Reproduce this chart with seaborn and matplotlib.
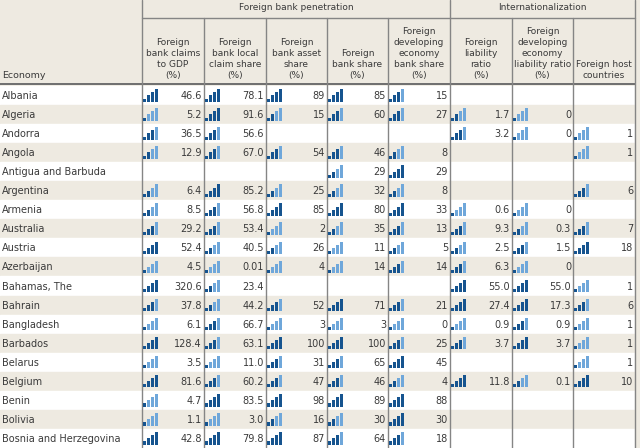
import matplotlib
matplotlib.use("Agg")
import matplotlib.pyplot as plt
from matplotlib.patches import Rectangle
import seaborn as sns

# ------------------------------
# Data (read off the reference table)
# ------------------------------
countries = ["Albania", "Algeria", "Andorra", "Angola", "Antigua and Barbuda",
             "Argentina", "Armenia", "Australia", "Austria", "Azerbaijan",
             "Bahamas, The", "Bahrain", "Bangladesh", "Barbados", "Belarus",
             "Belgium", "Benin", "Bolivia", "Bosnia and Herzegovina"]

claims_gdp = ["46.6", "5.2", "36.5", "12.9", "", "6.4", "8.5", "29.2", "52.4", "4.5",
              "320.6", "37.8", "6.1", "128.4", "3.5", "81.6", "4.7", "1.1", "42.8"]
claims_gdp_q = [4, 1, 3, 2, 0, 2, 2, 3, 4, 1, 4, 3, 1, 4, 1, 4, 1, 1, 4]

local_claim = ["78.1", "91.6", "56.6", "67.0", "", "85.2", "56.8", "53.4", "40.5", "0.01",
               "23.4", "44.2", "66.7", "63.1", "11.0", "60.2", "83.5", "3.0", "79.8"]
local_claim_q = [4, 4, 3, 3, 0, 4, 3, 3, 2, 1, 2, 2, 3, 3, 1, 3, 4, 1, 4]

asset_share = ["89", "15", "", "54", "", "25", "85", "2", "26", "4",
               "", "52", "3", "100", "31", "47", "98", "16", "87"]
asset_share_q = [4, 2, 0, 3, 0, 2, 4, 1, 2, 1, 0, 3, 1, 4, 3, 3, 4, 2, 4]

bank_share = ["85", "60", "", "46", "29", "32", "80", "35", "11", "14",
              "", "71", "3", "100", "65", "46", "89", "30", "64"]
bank_share_q = [4, 3, 0, 3, 2, 2, 4, 2, 1, 1, 0, 4, 1, 4, 3, 3, 4, 2, 3]

dev_share = ["15", "27", "", "8", "29", "8", "33", "13", "5", "14",
             "", "21", "0", "25", "45", "4", "88", "30", "18"]
dev_share_q = [3, 3, 0, 2, 4, 2, 4, 3, 2, 3, 0, 3, 1, 3, 4, 2, 4, 4, 3]

liability = ["", "1.7", "3.2", "", "", "", "0.6", "9.3", "2.5", "6.3",
             "55.0", "27.4", "0.9", "3.7", "", "11.8", "", "", ""]
liability_q = [0, 2, 3, 0, 0, 0, 1, 3, 2, 3, 4, 4, 1, 3, 0, 4, 0, 0, 0]

dev_liability = ["", "0", "0", "", "", "", "0", "0.3", "1.5", "0",
                 "55.0", "17.3", "0.9", "3.7", "", "0.1", "", "", ""]
dev_liability_q = [0, 1, 1, 0, 0, 0, 1, 2, 3, 1, 4, 4, 3, 4, 0, 2, 0, 0, 0]

host = ["", "", "1", "1", "", "6", "", "7", "18", "",
        "1", "6", "1", "1", "1", "10", "", "", ""]
host_q = [0, 0, 1, 1, 0, 3, 0, 3, 4, 0, 1, 3, 1, 1, 1, 4, 0, 0, 0]

headers = ["Foreign\nbank claims\nto GDP\n(%)",
           "Foreign\nbank local\nclaim share\n(%)",
           "Foreign\nbank asset\nshare\n(%)",
           "Foreign\nbank share\n(%)",
           "Foreign\ndeveloping\neconomy\nbank share\n(%)",
           "Foreign\nliability\nratio\n(%)",
           "Foreign\ndeveloping\neconomy\nliability ratio\n(%)",
           "Foreign host\ncountries"]
groups = ["Foreign bank penetration", "Internationalization"]

values = [claims_gdp, local_claim, asset_share, bank_share,
          dev_share, liability, dev_liability, host]
levels = [claims_gdp_q, local_claim_q, asset_share_q, bank_share_q,
          dev_share_q, liability_q, dev_liability_q, host_q]

# ------------------------------
# Layout / style
# ------------------------------
sns.set_theme(style="white")
plt.rcParams['font.family'] = ['Liberation Sans Narrow', 'DejaVu Sans']

col_edges = [142, 204, 266, 327, 388, 450, 512, 573, 635]
row_top = 86
row_h = 19.05
head_split = 18
head_bottom = 84

beige = "#EEEAE1"
dark_blue, light_blue = sns.color_palette(["#16548F", "#6FA7DA"])
line_col = "#858585"
text_col = "#3A3A3A"

fig = plt.figure(figsize=(6.4, 4.48), dpi=100)
fig.patch.set_facecolor(beige)
ax = fig.add_axes([0, 0, 1, 1])
ax.set_xlim(0, 640)
ax.set_ylim(448, 0)
ax.axis("off")

# header background
ax.add_patch(Rectangle((0, 0), 640, head_bottom, color=beige, zorder=0))

# row backgrounds
for i in range(len(countries)):
    y0 = row_top + i * row_h
    ax.add_patch(Rectangle((0, y0), col_edges[-1], row_h,
                           color=beige if i % 2 else "white", zorder=0))
ax.add_patch(Rectangle((col_edges[-1], 0), 640 - col_edges[-1], 448,
                       color=beige, zorder=0))

# group headers
ax.text((col_edges[0] + col_edges[5]) / 2, 8, groups[0], ha="center",
        va="center", fontsize=6.5, color=text_col)
ax.text((col_edges[5] + col_edges[8]) / 2, 8, groups[1], ha="center",
        va="center", fontsize=6.5, color=text_col)

# column headers
for j, h in enumerate(headers):
    cx = (col_edges[j] + col_edges[j + 1]) / 2
    ax.text(cx, 80, h, ha="center", va="bottom", fontsize=6.5,
            color=text_col, linespacing=1.3, multialignment="center")
ax.text(2, 80, "Economy", ha="left", va="bottom", fontsize=6.8, color=text_col)

# grid lines
ax.plot([col_edges[0], col_edges[-1]], [head_split, head_split], color=line_col, lw=1)
ax.plot([0, col_edges[-1]], [head_bottom, head_bottom], color="#6E6E6E", lw=1.4)
for k, x in enumerate(col_edges):
    top = 0 if k in (0, 5, 8) else head_split
    ax.plot([x, x], [top, 448], color=line_col, lw=1)

# cells
bar_h = [3.2, 6.4, 9.4, 12.6]
for i, name in enumerate(countries):
    y0 = row_top + i * row_h
    yc = y0 + row_h / 2
    base = y0 + row_h - 3.3
    ax.text(2, yc + 0.5, name, ha="left", va="center", fontsize=7, color=text_col)
    for j in range(len(values)):
        v = values[j][i]
        q = levels[j][i]
        if q:
            xs = [col_edges[j] + 2.8 + b * 3.8 for b in range(4)]
            cols = [dark_blue if b < q else light_blue for b in range(4)]
            ax.bar(xs, [-h for h in bar_h], width=3.0, bottom=base,
                   color=cols, align="center", zorder=2, linewidth=0)
        if v:
            ax.text(col_edges[j + 1] - 2, yc + 0.5, v, ha="right", va="center",
                    fontsize=7, color=text_col)

fig.savefig("out.png", dpi=100, facecolor=fig.get_facecolor())
